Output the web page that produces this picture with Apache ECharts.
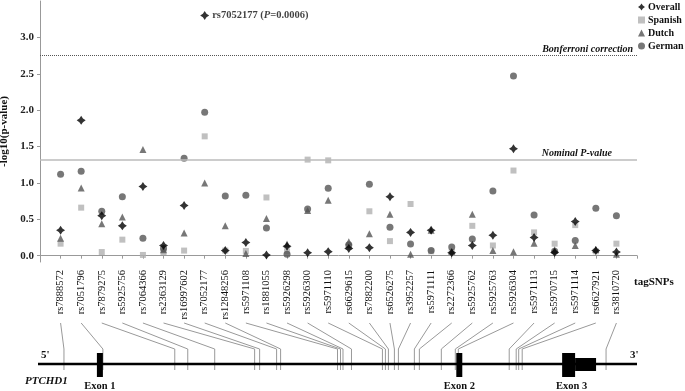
<!DOCTYPE html>
<html>
<head>
<meta charset="utf-8">
<title>PTCHD1 tagSNPs</title>
<script src="https://cdn.jsdelivr.net/npm/echarts@6.0.0/dist/echarts.min.js"></script>
<style>body{margin:0;background:#fff;}</style>
</head>
<body>
<div id="main" style="width:685px;height:391px;"></div>
<script type="text/javascript">
// tag SNPs along PTCHD1, 5' -> 3'
var snpNames = ['rs7888572','rs7051796','rs7879275','rs5925756','rs7064366','rs2363129','rs16997602',
    'rs7052177','rs12848256','rs5971108','rs1881055','rs5926298','rs5926300','rs5971110','rs6629615',
    'rs7882200','rs6526275','rs3952257','rs5971111','rs2272366','rs5925762','rs5925763','rs5926304',
    'rs5971113','rs5970715','rs5971114','rs6627921','rs3810720'];

// -log10(p) per cohort
var overall = [0.35,1.86,0.55,0.41,0.95,0.14,0.69,3.30,0.07,0.18,0.01,0.13,0.04,0.055,0.10,0.11,0.81,0.32,0.35,0.04,0.14,0.28,1.47,0.25,0.045,0.47,0.07,0.05];
var spanish = [0.165,0.66,0.05,0.22,0.01,0.05,0.07,1.64,0.07,0.065,0.80,0.06,1.32,1.31,0.12,0.61,0.20,0.71,0.06,0.05,0.41,0.14,1.17,0.32,0.165,0.42,0.06,0.165];
var dutch   = [0.24,0.93,0.44,0.53,1.46,0.08,0.31,1.00,0.41,0.03,0.51,0.16,0.62,0.76,0.19,0.30,0.57,0.02,0.35,0.06,0.57,0.07,0.055,0.17,0.08,0.14,0.085,0.02];
var german  = [1.12,1.16,0.61,0.81,0.24,0.10,1.34,1.97,0.82,0.83,0.38,0.02,0.64,0.925,0.15,0.98,0.39,0.16,0.07,0.12,0.23,0.89,2.47,0.56,0.06,0.21,0.65,0.55];

var yTicks = [0, 0.5, 1.0, 1.5, 2.0, 2.5, 3.0];
var bonferroni = 2.75;
var nominal = 1.32;
var topSnp = 7;             // rs7052177
var topSnpText = 'P=0.0006';

// position of each SNP on the gene schematic (gene units 0..600)
var genePos = [26,65,137,150,177,217,222,239,243,300,303,305.5,314,345,348,351,357,361,377,382,404,418,421,472,479,481.5,485,569];
// exons [start, end] in gene units, and the narrower 3' UTR part
var exons = [[59,65],[419,425],[525,538]];
var exonNames = ['Exon 1','Exon 2','Exon 3'];
var utr3 = [538,559];

var serif = 'Liberation Serif';
var myChart = echarts.init(document.getElementById('main'));

function pts(arr) {
    var out = [];
    for (var i = 0; i < arr.length; i++) out.push([i + 1, arr[i]]);
    return out;
}

var overallData = pts(overall);
overallData[topSnp] = {
    value: overallData[topSnp],
    label: {
        show: true, position: 'right', distance: 3,
        formatter: '{a|' + snpNames[topSnp] + ' (}{b|P}{a|' + topSnpText.slice(1) + ')}',
        rich: {
            a: {fontFamily: serif, fontWeight: 'bold', fontSize: 10.5, color: '#111'},
            b: {fontFamily: serif, fontWeight: 'bold', fontStyle: 'italic', fontSize: 10.5, color: '#111'}
        }
    }
};

var option = {
    animation: false,
    grid: [
        {left: 40, right: 48, top: 1, bottom: 129, containLabel: false, outerBoundsMode: 'none'},
        {left: 38, right: 48, top: 340, height: 40, containLabel: false, outerBoundsMode: 'none'}
    ],
    legend: {
        orient: 'vertical', left: 638, top: 2, itemGap: 3, itemWidth: 7, itemHeight: 7,
        padding: 0, itemStyle: {borderWidth: 0},
        textStyle: {fontFamily: serif, fontWeight: 'bold', fontSize: 10, color: '#111', padding: [0, 0, 0, -2]},
        data: ['Overall', 'Spanish', 'Dutch', 'German']
    },
    xAxis: [{
        type: 'value', min: 0, max: 29, interval: 1,
        splitLine: {show: false},
        axisLine: {lineStyle: {color: '#999'}},
        axisTick: {length: 3, lineStyle: {color: '#999'}},
        axisLabel: {
            rotate: 90, margin: 8, fontFamily: serif, fontSize: 10.5, color: '#111',
            formatter: function (v) { return snpNames[v - 1] || ''; }
        }
    }, {
        gridIndex: 1, type: 'value', min: 0, max: 600, show: false
    }],
    yAxis: [{
        type: 'value', min: -0.087, max: 3.5,
        splitLine: {show: false},
        axisLine: {show: true, lineStyle: {color: '#999'}},
        axisTick: {show: true, length: 3, customValues: yTicks, lineStyle: {color: '#999'}},
        axisLabel: {
            customValues: yTicks, fontFamily: serif, fontWeight: 'bold', fontSize: 11, color: '#222', margin: 6,
            formatter: function (v) { return v.toFixed(1); }
        },
        name: '-log10(p-value)', nameLocation: 'middle', nameGap: 24,
        nameTextStyle: {fontFamily: serif, fontWeight: 'bold', fontSize: 11, color: '#111'}
    }, {
        gridIndex: 1, type: 'value', min: 0, max: 1, show: false
    }],
    series: [{
        name: 'Overall', type: 'scatter', z: 5,
        symbol: 'path://M5,0 L7,3 L10,5 L7,7 L5,10 L3,7 L0,5 L3,3 Z', symbolSize: 9,
        itemStyle: {color: '#000'},
        data: overallData,
        markLine: {
            silent: true, symbol: 'none',
            data: [{
                yAxis: bonferroni,
                lineStyle: {type: 'dotted', color: '#555', width: 1},
                label: {position: 'insideEndTop', distance: [4, 1], formatter: 'Bonferroni correction',
                    fontFamily: serif, fontStyle: 'italic', fontWeight: 'bold', fontSize: 10, color: '#111'}
            }, {
                yAxis: nominal,
                lineStyle: {type: 'solid', color: '#bbb', width: 1.5},
                label: {position: 'insideEndTop', distance: [25, 1], formatter: 'Nominal P-value',
                    fontFamily: serif, fontStyle: 'italic', fontWeight: 'bold', fontSize: 10, color: '#111'}
            }]
        }
    }, {
        name: 'Spanish', type: 'scatter', z: 2, symbol: 'rect', symbolSize: 6,
        itemStyle: {color: '#b0b0b0'}, data: pts(spanish)
    }, {
        name: 'Dutch', type: 'scatter', z: 3, symbol: 'triangle', symbolSize: 7,
        itemStyle: {color: '#555'}, data: pts(dutch)
    }, {
        name: 'German', type: 'scatter', z: 4, symbol: 'circle', symbolSize: 7,
        itemStyle: {color: '#555'}, data: pts(german)
    }, {
        type: 'scatter', xAxisIndex: 1, yAxisIndex: 1, data: [], silent: true
    }]
};
myChart.setOption(option);

// gene schematic below the axis
var lineTop = 323, bend = 349, lineBottom = 370, geneY = 364;
var g = [];
function gx(v) { return myChart.convertToPixel({xAxisIndex: 1}, v); }
for (var i = 0; i < snpNames.length; i++) {
    var sx = myChart.convertToPixel({xAxisIndex: 0}, i + 1);
    var ex = gx(genePos[i]);
    g.push({type: 'polyline', silent: true, z: 1,
        shape: {points: [[sx, lineTop], [ex, bend], [ex, lineBottom]]},
        style: {stroke: '#999', lineWidth: 1, fill: null}});
}
g.push({type: 'line', silent: true, z: 2, shape: {x1: gx(0), y1: geneY, x2: gx(600), y2: geneY},
    style: {stroke: '#000', lineWidth: 2.5}});
for (var k = 0; k < exons.length; k++) {
    var x1 = gx(exons[k][0]), x2 = gx(exons[k][1]);
    g.push({type: 'rect', silent: true, z: 3, shape: {x: x1, y: 353, width: x2 - x1, height: 24}, style: {fill: '#000'}});
    g.push({type: 'text', silent: true, z: 3, style: {x: (x1 + x2) / 2 + (k == 2 ? 3 : 0), y: 381, text: exonNames[k],
        align: 'center', fill: '#111', font: 'bold 10.5px "Liberation Serif"'}});
}
var u1 = gx(utr3[0]), u2 = gx(utr3[1]);
g.push({type: 'rect', silent: true, z: 3, shape: {x: u1, y: 358, width: u2 - u1, height: 13}, style: {fill: '#000'}});
g.push({type: 'text', silent: true, style: {x: 41, y: 350, text: "5'", fill: '#111', font: 'bold 11px "Liberation Serif"'}});
g.push({type: 'text', silent: true, style: {x: 630, y: 350, text: "3'", fill: '#111', font: 'bold 11px "Liberation Serif"'}});
g.push({type: 'text', silent: true, style: {x: 25, y: 376, text: 'PTCHD1', fill: '#111', font: 'italic bold 11px "Liberation Serif"'}});
g.push({type: 'text', silent: true, style: {x: 634, y: 277, text: 'tagSNPs', fill: '#111', font: 'bold 11px "Liberation Serif"'}});
myChart.setOption({graphic: g});
</script>
</body>
</html>
